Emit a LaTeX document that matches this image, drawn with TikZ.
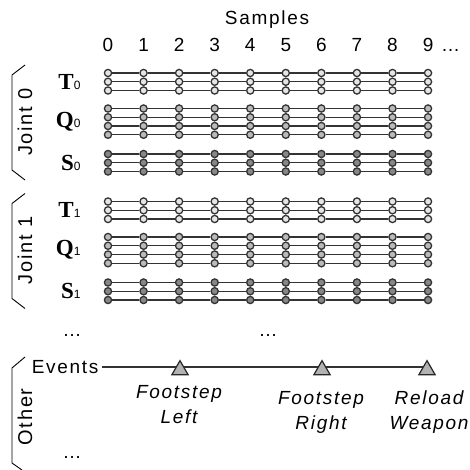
\documentclass[tikz,border=0pt]{standalone}
\usepackage{fontspec}
\setmainfont{Liberation Sans}[LetterSpace=9]
\newfontfamily\chfont{Liberation Serif}
\usetikzlibrary{positioning,shapes.geometric,backgrounds}
\tikzset{
  every node/.style={font=\fontsize{19}{24}\selectfont},
  dotbase/.style={circle,draw=black!80,line width=1.3pt,inner sep=0pt,minimum size=7.2pt},
  tdot/.style={dotbase,fill=black!10},
  qdot/.style={dotbase,fill=black!27},
  sdot/.style={dotbase,fill=black!47},
  trk/.style={draw=black!80,line width=1.4pt},
  brk/.style={line width=0.9pt,black},
  grp/.style={rotate=90,font=\fontsize{20}{24}\selectfont},
  evmark/.style={regular polygon,regular polygon sides=3,draw=black!85,
    fill=black!30,line width=1.2pt,inner sep=0pt,minimum size=18.7pt},
  evlbl/.style={align=center,font=\fontsize{19}{25}\selectfont\itshape},
}
\newcommand{\chlbl}[2]{{\chfont\bfseries\fontsize{23}{24}\selectfont #1}{\fontsize{12}{12}\selectfont #2}}

\begin{document}
\begin{tikzpicture}[x=1pt,y=-1pt]
  \useasboundingbox (0,0) rectangle (469,470);
  % header
  \node (smps) at (267,20) {Samples};
  \foreach \c in {0,...,9}
    \node (col\c) at ({108+35.56*\c},45) {\c};
  \node[anchor=base west,inner sep=0pt] (more) at ([xshift=4pt]col9.base east) {\ldots};
  % joints
  \foreach \j/\oy in {0/0,1/128.5}{
    \foreach \ch/\ys/\nr/\st in {T/73/3/tdot,Q/108.5/4/qdot,S/154/3/sdot}{
      \node[anchor=east] (l\ch\j) at (84,{\oy+\ys+8.75*(\nr-1)/2}) {\chlbl{\ch}{\j}};
      \foreach \r in {1,...,\nr}{
        \foreach \c in {0,...,9}
          \node[\st] (\ch\j-\r-\c) at ({108+35.56*\c},{\oy+\ys+8.75*(\r-1)}) {};
        \foreach \c [count=\p from 0] in {1,...,9}
          \draw[trk] (\ch\j-\r-\p) -- (\ch\j-\r-\c);
      }
    }
    \draw[brk] (25,{\oy+65}) -- (12,{\oy+75}) -- (12,{\oy+170}) -- (25,{\oy+180});
    \node[grp] (jt\j) at (25,{\oy+122}) {Joint \j};
  }
  \node (vd1) at (72,335) {\ldots};
  \node (vd2) at (268,335) {\ldots};
  % other
  \draw[brk] (25,357) -- (12,368) -- (12,463) -- (22,470);
  \node[grp] (oth) at (25,417) {Other};
  \node[anchor=east] (ev) at (102,367) {Events};
  \node[evmark] (e1) at (180,370) {};
  \node[evmark] (e2) at (322,370) {};
  \node[evmark] (e3) at (427,370) {};
  \begin{scope}[on background layer]
    \fill[white] (0,0) rectangle (469,470);
    \draw[trk] (ev.east) -- (ev.east -| e3.center);
  \end{scope}
  \node[evlbl] (f1) at (179,404.5) {Footstep\\Left};
  \node[evlbl] (f2) at (321,412.5) {Footstep\\Right};
  \node[evlbl] (f3) at (429,412.5) {Reload\\Weapon};
  \node (vd3) at (72,457) {\ldots};
\end{tikzpicture}
\end{document}
